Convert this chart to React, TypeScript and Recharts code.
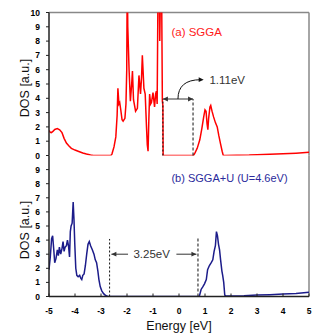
import React from 'react';
import { LineChart, Line, XAxis, YAxis, ReferenceLine, ReferenceDot } from 'recharts';

const FONT = '"Liberation Sans", Arial, sans-serif';

const xTicks = [-5, -4, -3, -2, -1, 0, 1, 2, 3, 4, 5];
const topYTicks = [0, 1, 2, 3, 4, 5, 6, 7, 8, 9, 10];
const bottomYTicks = [0, 1, 2, 3, 4, 5, 6, 7, 8, 9];

// (a) SGGA
const sggaEnergy = [
  -5, -4.95, -4.91, -4.85, -4.78, -4.68, -4.59, -4.5, -4.42, -4.33, -4.24, -4.14, -4.0, -3.88, -3.7, -3.56, -3.4, -3.3,
  -2.62, -2.58, -2.5, -2.43, -2.38, -2.35, -2.31, -2.28, -2.24, -2.19, -2.15, -2.08, -2.04, -2.01, -1.99, -1.97,
  -1.92, -1.87, -1.82, -1.79, -1.75, -1.67, -1.6, -1.54, -1.48, -1.44, -1.41, -1.35, -1.3, -1.25, -1.22, -1.19,
  -1.16, -1.13, -1.09, -1.06, -1.0, -0.94, -0.9, -0.87, -0.84, -0.81, -0.77, -0.74, -0.7, -0.67, -0.64, -0.62,
  -0.61, 0.56, 0.62, 0.7, 0.8, 0.88, 0.95, 1.0, 1.04, 1.08, 1.11, 1.14, 1.19, 1.22, 1.27, 1.33, 1.4, 1.47, 1.53,
  1.6, 1.66, 1.7, 1.75, 2.7, 3.0, 3.5, 4.0, 4.5, 5.0,
];
const sggaDos = [
  1.75, 1.62, 1.6, 1.68, 1.82, 1.88, 1.8, 1.6, 1.2, 0.87, 0.68, 0.5, 0.38, 0.3, 0.18, 0.1, 0.03, 0,
  0, 0.1, 0.6, 1.3, 2.8, 4.7, 3.6, 3.7, 3.2, 2.5, 2.4, 2.6, 3.6, 6, 13, 9,
  6, 3.8, 5.0, 5.9, 3.9, 3.1, 3.3, 5.6, 4.3, 5.5, 7.0, 4.7, 4.3, 2.0, 0.75, 0.3,
  2.5, 4.3, 3.6, 3.7, 4.4, 3.4, 4.3, 4.5, 3.6, 11, 14, 8, 13, 12, 3.8, 3.5,
  0, 0, 0.2, 0.5, 1.1, 1.9, 2.7, 3.2, 3.1, 2.2, 1.8, 2.6, 3.4, 3.5, 3.1, 2.7, 2.3, 2.0, 1.4,
  0.8, 0.3, 0.02, 0, 0.03, 0.06, 0.09, 0.12, 0.16, 0.22,
];

// (b) SGGA+U
const sggaUEnergy = [
  -5.0, -4.95, -4.9, -4.86, -4.82, -4.78, -4.73, -4.68, -4.64, -4.6, -4.55, -4.5, -4.46, -4.42, -4.38, -4.33, -4.29,
  -4.25, -4.21, -4.18, -4.15, -4.11, -4.07, -4.04, -4.01, -3.97, -3.93, -3.88, -3.82, -3.78, -3.74, -3.7, -3.65,
  -3.6, -3.55, -3.5, -3.45, -3.4, -3.33, -3.27, -3.22, -3.17, -3.12, -3.08, -3.03, -2.97, -2.9, -2.82, -2.75, -2.7,
  0.78, 0.85, 0.92, 0.98, 1.05, 1.1, 1.17, 1.24, 1.3, 1.35, 1.4, 1.44, 1.48, 1.52, 1.56, 1.6, 1.65, 1.68, 1.72,
  1.76, 1.8, 2.0, 2.5, 3.0, 3.5, 4.0, 4.5, 5.0,
];
const sggaUDos = [
  1.9, 2.8, 4.1, 4.3, 3.4, 2.4, 2.7, 3.3, 2.9, 3.5, 3.0, 3.4, 3.9, 3.2, 3.5, 3.6, 4.0,
  3.6, 2.8, 4.6, 5.0, 5.2, 6.7, 5.5, 3.8, 2.0, 1.5, 1.4, 1.5, 1.3, 1.2, 1.5, 1.6,
  2.2, 3.0, 3.7, 3.9, 3.6, 3.3, 3.0, 2.6, 2.4, 1.8, 1.2, 0.7, 0.4, 0.2, 0.07, 0.02, 0,
  0, 0.5, 0.7, 0.9, 1.2, 1.9, 2.2, 2.4, 2.6, 3.2, 3.6, 4.6, 4.3, 3.7, 3.3, 2.6, 1.8, 1.5, 1.0,
  0.1, 0.03, 0.03, 0.05, 0.1, 0.13, 0.17, 0.22, 0.3,
];

// annotation values (energies in eV, heights in DOS units)
const topVbm = -0.62;
const topCbm = 0.54;
const topArrowY = 3.95;
const topGapLabel = '1.11eV';
const topCurveEnd = { x: 0.95, y: 5.3 };
const topGapText = { x: 1.17, y: 5.28 };
const topTitle = '(a) SGGA';
const topTitlePos = { x: -0.29, y: 8.66 };

const botVbm = -2.67;
const botCbm = 0.73;
const botVbmTop = 4.08;
const botCbmTop = 4.13;
const botArrowY = 3.0;
const botLeftArrow = [-1.96, -2.6];
const botRightArrow = [-0.1, 0.67];
const botGapLabel = '3.25eV';
const botGapTextX = -1.05;
const botTitle = '(b) SGGA+U (U=4.6eV)';
const botTitlePos = { x: -0.29, y: 8.38 };

const topData = sggaEnergy.map((e, i) => ({ e, dos: sggaDos[i] }));
const botData = sggaUEnergy.map((e, i) => ({ e, dos: sggaUDos[i] }));

const ANN = '#333';

const head = (x: number, y: number, ang: number, color: string) => {
  const L = 5;
  const W = 2.4;
  const c = Math.cos(ang);
  const s = Math.sin(ang);
  const bx = x - L * c;
  const by = y - L * s;
  const p1 = `${x},${y}`;
  const p2 = `${bx - W * s},${by + W * c}`;
  const p3 = `${bx + W * s},${by - W * c}`;
  return <polygon points={`${p1} ${p2} ${p3}`} fill={color} stroke="none" />;
};

const SingleArrow = (props: any) => {
  const { x1, y1, x2, y2 } = props;
  const ang = Math.atan2(y2 - y1, x2 - x1);
  return (
    <g>
      <line x1={x1} y1={y1} x2={x2} y2={y2} stroke={ANN} strokeWidth={1} />
      {head(x2, y2, ang, ANN)}
    </g>
  );
};

const DoubleArrow = (props: any) => {
  const { x1, y1, x2, y2 } = props;
  const ang = Math.atan2(y2 - y1, x2 - x1);
  return (
    <g>
      <line x1={x1} y1={y1} x2={x2} y2={y2} stroke={ANN} strokeWidth={1} />
      {head(x2, y2, ang, ANN)}
      {head(x1, y1, ang + Math.PI, ANN)}
    </g>
  );
};

const CurvedArrow = (props: any) => {
  const { x1, y1, x2, y2 } = props;
  return (
    <g>
      <path d={`M${x1},${y1} Q${x1},${y2} ${x2 - 3},${y2}`} fill="none" stroke="#111" strokeWidth={1} />
      {head(x2, y2, 0, '#111')}
    </g>
  );
};

const makeText = (text: string, color: string, anchor: string, size: number) => (props: any) => (
  <text
    x={props.cx}
    y={props.cy}
    fill={color}
    fontSize={size}
    fontFamily={FONT}
    textAnchor={anchor}
    dominantBaseline="central"
  >
    {text}
  </text>
);

const tickStyle = { fontSize: 8.5, fontWeight: 700, fill: '#000', fontFamily: FONT };
const labelStyle = { fontSize: 12.5, fill: '#111', fontFamily: FONT };

export default function App() {
  return (
    <div style={{ position: 'absolute', left: 0, top: 0, width: 323, height: 336, background: '#fff' }}>
      <div style={{ position: 'absolute', left: 0, top: 0 }}>
        <LineChart width={323} height={336} data={topData} margin={{ top: 12.5, right: 14, bottom: 180.5, left: 0 }}>
          <XAxis
            dataKey="e"
            type="number"
            domain={[-5, 5]}
            ticks={xTicks}
            interval={0}
            height={0}
            tick={false}
            tickSize={-3}
            axisLine={{ stroke: '#222', strokeWidth: 1.5 }}
            tickLine={{ stroke: '#222' }}
            allowDataOverflow
          />
          <YAxis
            type="number"
            domain={[0, 10]}
            ticks={topYTicks}
            interval={0}
            width={49}
            allowDataOverflow
            tick={tickStyle}
            tickSize={3}
            tickMargin={6}
            axisLine={{ stroke: '#222', strokeWidth: 1.5 }}
            tickLine={{ stroke: '#222' }}
            label={{ value: 'DOS [a.u.]', angle: -90, position: 'center', dy: 4, style: labelStyle }}
          />
          <ReferenceLine y={10} stroke="#888" strokeWidth={1.5} />
          <ReferenceLine x={5} stroke="#888" strokeWidth={1.5} />
          <Line type="linear" dataKey="dos" stroke="#ff0000" strokeWidth={1.5} dot={false} isAnimationActive={false} />
          <ReferenceLine segment={[{ x: topVbm, y: 0 }, { x: topVbm, y: topArrowY }]} stroke="#111" strokeDasharray="2 2" strokeWidth={1} />
          <ReferenceLine segment={[{ x: topCbm, y: 0 }, { x: topCbm, y: topArrowY }]} stroke="#111" strokeDasharray="3 2" strokeWidth={1} />
          <ReferenceLine segment={[{ x: topVbm, y: topArrowY }, { x: topCbm, y: topArrowY }]} shape={DoubleArrow} />
          <ReferenceLine
            segment={[{ x: (topVbm + topCbm) / 2, y: topArrowY }, { x: topCurveEnd.x, y: topCurveEnd.y }]}
            shape={CurvedArrow}
          />
          <ReferenceDot x={topGapText.x} y={topGapText.y} r={0} shape={makeText(topGapLabel, ANN, 'start', 11.5)} />
          <ReferenceDot x={topTitlePos.x} y={topTitlePos.y} r={0} shape={makeText(topTitle, '#ff1a1a', 'start', 11.5)} />
        </LineChart>
      </div>
      <div style={{ position: 'absolute', left: 0, top: 0 }}>
        <LineChart width={323} height={336} data={botData} margin={{ top: 155.5, right: 14, bottom: 9.5, left: 0 }}>
          <XAxis
            dataKey="e"
            type="number"
            domain={[-5, 5]}
            ticks={xTicks}
            interval={0}
            height={30}
            tick={tickStyle}
            tickSize={-3}
            tickMargin={14}
            axisLine={{ stroke: '#222', strokeWidth: 1.5 }}
            tickLine={{ stroke: '#222' }}
            allowDataOverflow
            label={{ value: 'Energy [eV]', position: 'insideBottom', offset: -3.5, style: labelStyle }}
          />
          <YAxis
            type="number"
            domain={[0, 10]}
            ticks={bottomYTicks}
            interval={0}
            width={49}
            allowDataOverflow
            tick={tickStyle}
            tickSize={3}
            tickMargin={6}
            axisLine={{ stroke: '#222', strokeWidth: 1.5 }}
            tickLine={{ stroke: '#222' }}
            label={{ value: 'DOS [a.u.]', angle: -90, position: 'center', dy: 4, style: labelStyle }}
          />
          <ReferenceLine x={5} stroke="#888" strokeWidth={1.5} />
          <Line type="linear" dataKey="dos" stroke="#1c1c8a" strokeWidth={1.5} dot={false} isAnimationActive={false} />
          <ReferenceLine segment={[{ x: botVbm, y: 0 }, { x: botVbm, y: botVbmTop }]} stroke="#111" strokeDasharray="2 2" strokeWidth={1} />
          <ReferenceLine segment={[{ x: botCbm, y: 0 }, { x: botCbm, y: botCbmTop }]} stroke="#111" strokeDasharray="3 2" strokeWidth={1} />
          <ReferenceLine segment={[{ x: botLeftArrow[0], y: botArrowY }, { x: botLeftArrow[1], y: botArrowY }]} shape={SingleArrow} />
          <ReferenceLine segment={[{ x: botRightArrow[0], y: botArrowY }, { x: botRightArrow[1], y: botArrowY }]} shape={SingleArrow} />
          <ReferenceDot x={botGapTextX} y={botArrowY} r={0} shape={makeText(botGapLabel, ANN, 'middle', 11.5)} />
          <ReferenceDot x={botTitlePos.x} y={botTitlePos.y} r={0} shape={makeText(botTitle, '#2a2a9c', 'start', 11)} />
        </LineChart>
      </div>
    </div>
  );
}
